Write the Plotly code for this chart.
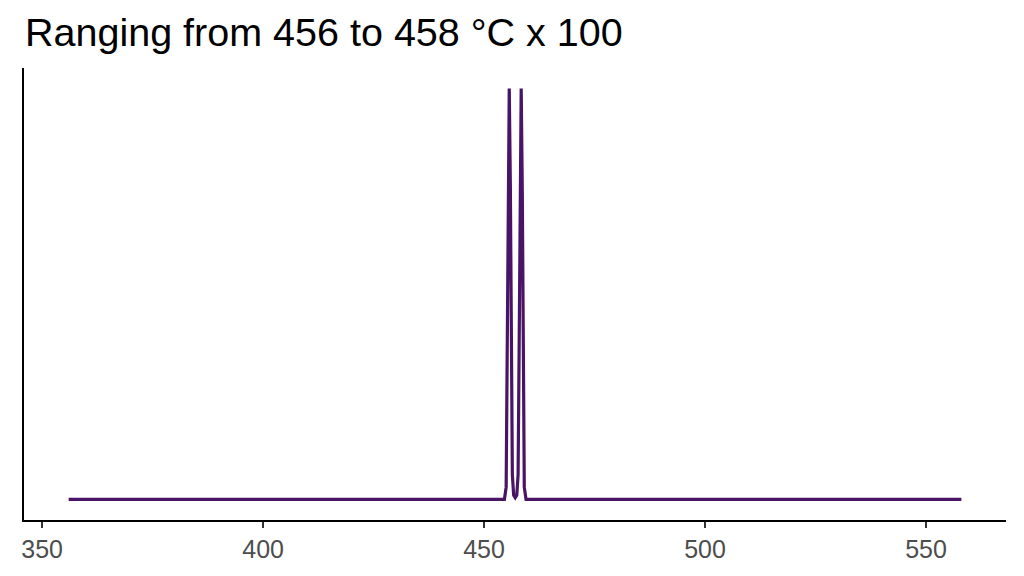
import plotly.graph_objects as go

# density curve (x in units, y arbitrary density)
temp = [356.0, 454.6, 455.0, 455.2, 455.45, 455.7, 455.95, 456.2, 456.4, 456.7,
        457.05,
        457.4, 457.7, 457.9, 458.15, 458.4, 458.65, 458.9, 459.1, 459.5, 558.0]
dens = [0.0, 0.0, 0.03, 0.30, 0.75, 1.0, 0.76, 0.32, 0.06, 0.01,
        0.004,
        0.01, 0.06, 0.32, 0.76, 1.0, 0.75, 0.30, 0.03, 0.0, 0.0]

x_ticks = [350, 400, 450, 500, 550]
title_txt = "Ranging from 456 to 458 °C x 100"

x_lo, x_hi = min(temp), max(temp)
pad_x = (x_hi - x_lo) * 0.05
y_hi = max(dens)
pad_y = y_hi * 0.05

fig = go.Figure()
fig.add_trace(go.Scatter(x=temp, y=dens, mode="lines",
                         line=dict(color="#4a1466", width=3.2),
                         hoverinfo="skip", showlegend=False))

# page body adds 8px, so margins are shifted to compensate
fig.update_layout(
    width=1024, height=576,
    paper_bgcolor="white", plot_bgcolor="white",
    margin=dict(l=16, r=26, t=60, b=64),
    font=dict(family="Liberation Sans, Arial, sans-serif"),
    title=dict(text=title_txt, x=17 / 1024, xref="container", xanchor="left",
               y=1 - 24 / 576, yref="container", yanchor="middle",
               font=dict(size=39.5, color="black")),
)
fig.update_xaxes(range=[x_lo - pad_x, x_hi + pad_x], tickvals=x_ticks,
                 showgrid=False, zeroline=False,
                 showline=True, linecolor="black", linewidth=2,
                 ticks="outside", ticklen=6, tickwidth=2, tickcolor="#333333",
                 tickfont=dict(size=25, color="#4d4d4d"))
fig.update_yaxes(range=[-pad_y, y_hi + pad_y], showgrid=False, zeroline=False,
                 showline=True, linecolor="black", linewidth=2,
                 showticklabels=False, ticks="")

fig.write_html("out.html")
